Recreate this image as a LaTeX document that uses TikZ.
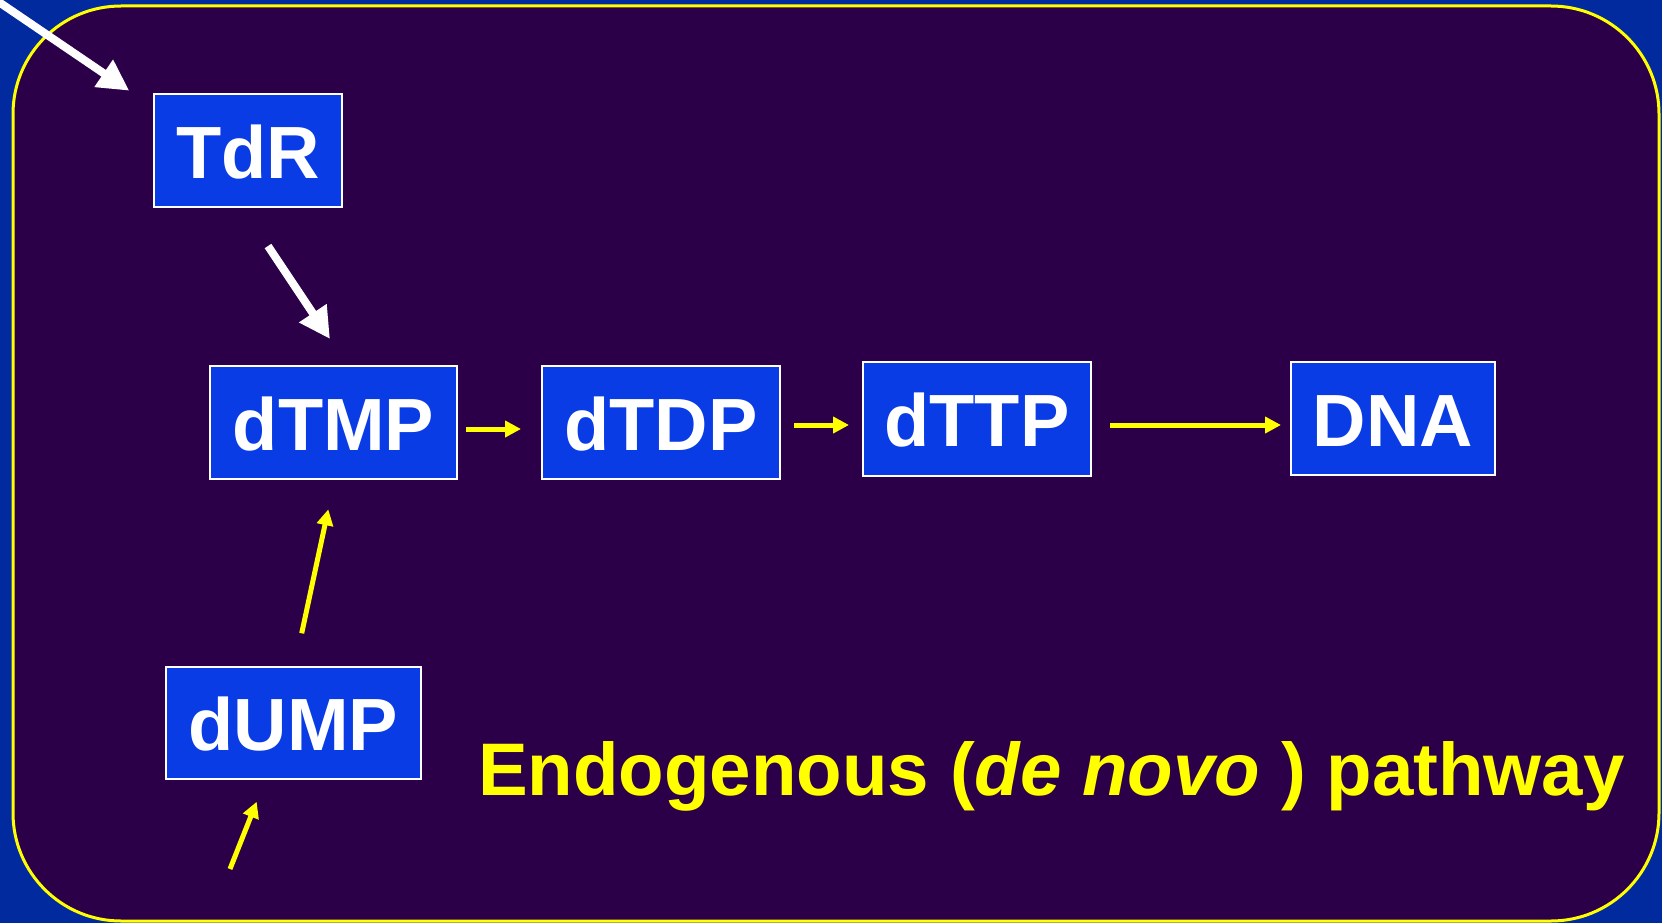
\documentclass[tikz,border=0pt]{standalone}
\usepackage{fontspec}
\setmainfont{Liberation Sans}
\usetikzlibrary{arrows.meta}
\definecolor{outerblue}{RGB}{0,42,158}
\definecolor{innerpurple}{RGB}{44,0,72}
\definecolor{boxblue}{RGB}{10,60,230}
\definecolor{titleyellow}{RGB}{255,255,0}
\tikzset{
  mol/.style={draw=white, line width=2.5pt, fill=boxblue, text=white,
    font=\fontsize{74}{80}\selectfont\bfseries, inner sep=0pt,
    text height=55pt, text depth=0pt, anchor=center},
  whitearrow/.style={draw=white, line width=8pt,
    -{Triangle[length=31pt,width=31pt]}},
  yellowarrow/.style={draw=titleyellow, line width=5pt,
    -{Triangle[length=16pt,width=16pt]}},
}
\begin{document}
\begin{tikzpicture}[x=1pt,y=-1pt]
\useasboundingbox (0,0) rectangle (1662,923);
\fill[outerblue] (0,0) rectangle (1662,923);
\draw[titleyellow, line width=3pt, fill=innerpurple, rounded corners=108pt]
  (13,6) rectangle (1659,921);
% nodes
\node[mol, minimum width=188pt, minimum height=113pt] (tdr) at (248,150.5) {TdR};
\node[mol, minimum width=247pt, minimum height=113pt] (dtmp) at (333.5,422.5) {dTMP};
\node[mol, minimum width=238pt, minimum height=113pt] (dtdp) at (661,422.5) {dTDP};
\node[mol, minimum width=228pt, minimum height=114pt] (dttp) at (977,419) {dTTP};
\node[mol, minimum width=204pt, minimum height=113pt] (dna) at (1393,418.5) {DNA};
\node[mol, minimum width=255pt, minimum height=112pt] (dump) at (293.5,723) {dUMP};
\node[anchor=base west, text=titleyellow, inner sep=0pt,
  font=\fontsize{74.5}{80}\selectfont\bfseries] (title) at (478,795)
  {Endogenous (\textit{de novo} ) pathway};
% connector end points
\coordinate (inStart) at (-10,-4);
\coordinate (inTip) at (129.3,90.7);
\coordinate (tdrOut) at (268,246);
\coordinate (dtmpIn) at (330,339);
\coordinate (a1s) at (466,429);
\coordinate (a1e) at (521,429);
\coordinate (a2s) at (794,425);
\coordinate (a2e) at (849,425);
\coordinate (a3s) at (1110,425);
\coordinate (a3e) at (1281,425);
\coordinate (dumpOut) at (301.7,633.3);
\coordinate (dtmpBelow) at (328.3,509.3);
\coordinate (bStart) at (230,869);
\coordinate (bTip) at (256.7,801.7);
% connectors
\draw[whitearrow] (inStart) -- (inTip);
\draw[whitearrow] (tdrOut) -- (dtmpIn);
\draw[yellowarrow] (a1s) -- (a1e);
\draw[yellowarrow] (a2s) -- (a2e);
\draw[yellowarrow] (a3s) -- (a3e);
\draw[yellowarrow] (dumpOut) -- (dtmpBelow);
\draw[yellowarrow] (bStart) -- (bTip);
\end{tikzpicture}
\end{document}
